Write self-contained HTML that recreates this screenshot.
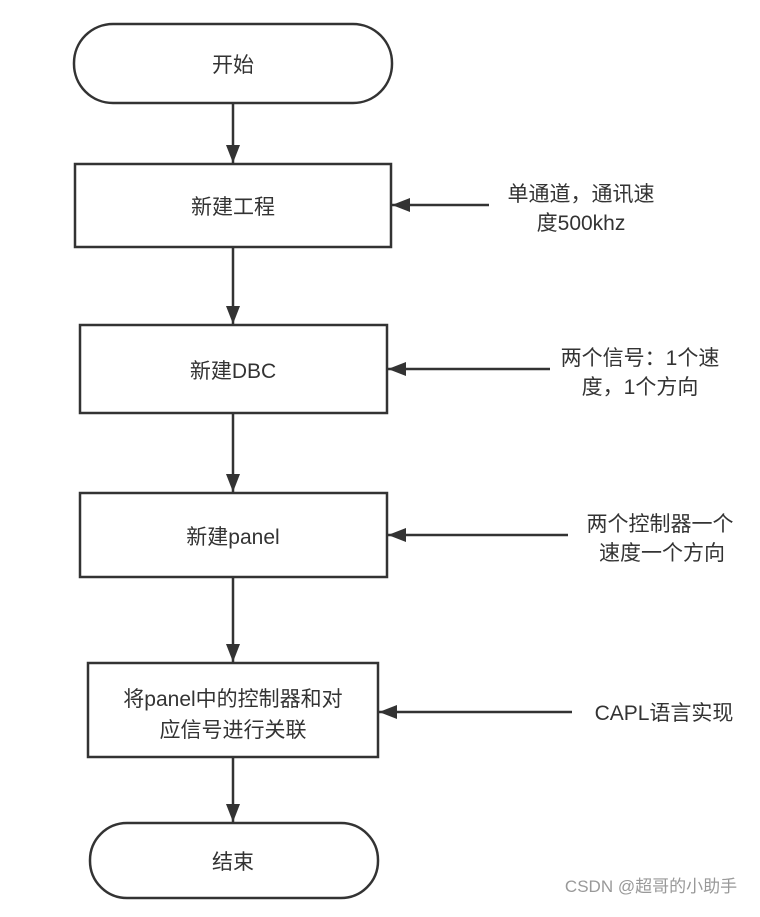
<!DOCTYPE html>
<html><head><meta charset="utf-8"><style>
body{margin:0;background:#fff}
svg text{font-family:"Liberation Sans","Noto Sans CJK SC",sans-serif;fill:#333;font-size:21px;text-anchor:middle}
</style></head><body>
<svg width="760" height="912" viewBox="0 0 760 912">
<defs>
<marker id="b" viewBox="0 0 18 14" markerWidth="18" markerHeight="14" refX="18" refY="7" orient="auto" markerUnits="userSpaceOnUse"><path d="M0,0 L18,7 L0,14 z" fill="#333"/></marker></defs>
<g fill="none" stroke="#333" stroke-width="2.5">
<rect x="74" y="24" width="318" height="79" rx="39"/>
<rect x="75" y="164" width="316" height="83"/>
<rect x="80" y="325" width="307" height="88"/>
<rect x="80" y="493" width="307" height="84"/>
<rect x="88" y="663" width="290" height="94"/>
<rect x="90" y="823" width="288" height="75" rx="37"/>
<g marker-end="url(#b)">
<line x1="233" y1="103" x2="233" y2="163"/>
<line x1="233" y1="247" x2="233" y2="324"/>
<line x1="233" y1="413" x2="233" y2="492"/>
<line x1="233" y1="577" x2="233" y2="662"/>
<line x1="233" y1="757" x2="233" y2="822"/>
<line x1="489" y1="205" x2="392" y2="205"/>
<line x1="550" y1="369" x2="388" y2="369"/>
<line x1="568" y1="535" x2="388" y2="535"/>
<line x1="572" y1="712" x2="379" y2="712"/>
</g></g>
<text x="233" y="72">开始</text>
<text x="233" y="214">新建工程</text>
<text x="233" y="378">新建DBC</text>
<text x="233" y="544">新建panel</text>
<text x="233" y="706">将panel中的控制器和对</text>
<text x="233" y="737">应信号进行关联</text>
<text x="233" y="869">结束</text>
<text x="581" y="201">单通道，通讯速</text>
<text x="581" y="230">度500khz</text>
<text x="640" y="365">两个信号：1个速</text>
<text x="640" y="394">度，1个方向</text>
<text x="660" y="531">两个控制器一个</text>
<text x="662" y="560">速度一个方向</text>
<text x="664" y="720">CAPL语言实现</text>
<text x="651" y="892" style="font-size:17px;fill:#999">CSDN @超哥的小助手</text>
</svg>
</body></html>
